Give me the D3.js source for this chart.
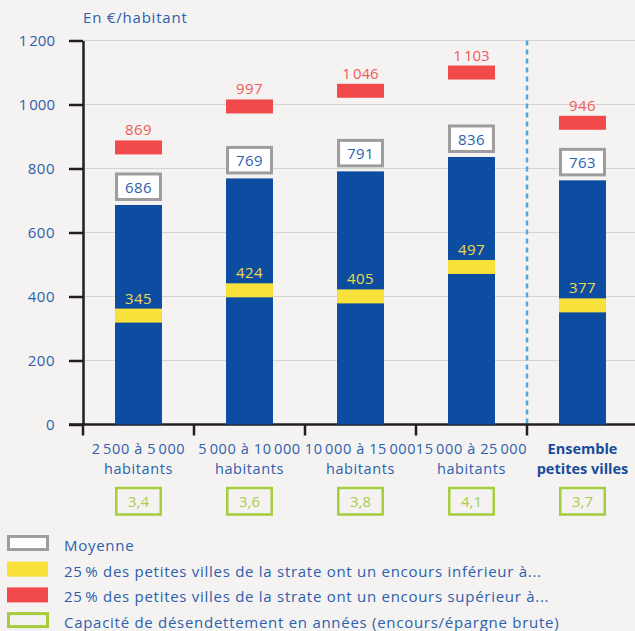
<!DOCTYPE html>
<html lang="fr">
<head>
<meta charset="utf-8">
<script src="https://cdn.jsdelivr.net/npm/d3@7"></script>
<style>
  body { margin: 0; background: #f4f3f1; }
  svg { display: block; font-family: "Open Sans", sans-serif; }
</style>
</head>
<body>
<svg id="chart"></svg>
<script>
const WIDTH = 635
const HEIGHT = 631
const PLOT = {left: 83, right: 638, top: 40.5, bottom: 424.5}

// strates de population (deux lignes par libellé)
const CATEGORIES = [
  ["2\u202f500 à 5\u202f000", "habitants"],
  ["5\u202f000 à 10\u202f000", "habitants"],
  ["10\u202f000 à 15\u202f000", "habitants"],
  ["15\u202f000 à 25\u202f000", "habitants"],
  ["Ensemble", "petites villes"],
]
const MOYENNE = [686, 769, 791, 836, 763]
const QUARTILE_BAS = [345, 424, 405, 497, 377]
const QUARTILE_HAUT = [869, 997, 1046, 1103, 946]
const CAPACITE = [3.4, 3.6, 3.8, 4.1, 3.7]
const Y_TICKS = [0, 200, 400, 600, 800, 1000, 1200]
const LEGEND_LABELS = [
  "Moyenne",
  "25\u202f% des petites villes de la strate ont un encours inférieur à...",
  "25\u202f% des petites villes de la strate ont un encours supérieur à...",
  "Capacité de désendettement en années (encours/épargne brute)",
]

const BLUE = "#0c4da2"
const TEXT_BLUE = "#2d5fae"
const YELLOW = "#f9e13b"
const RED = "#f24a4a"
const GRAY = "#9d9d9d"
const GREEN = "#a6cd3e"

const fr = d3.formatLocale({decimal: ",", thousands: "\u202f", grouping: [3], currency: ["", " €"]})
const fmtInt = fr.format(",d")
const fmtDec = fr.format(".1f")

const rows = CATEGORIES.map((c, i) => ({
  key: i,
  label: c,
  moyenne: MOYENNE[i],
  bas: QUARTILE_BAS[i],
  haut: QUARTILE_HAUT[i],
  capacite: CAPACITE[i],
}))

const svg = d3.select("#chart").attr("width", WIDTH).attr("height", HEIGHT)

const x = d3
  .scaleBand()
  .domain(rows.map((d) => d.key))
  .range([PLOT.left, PLOT.right])
  .paddingInner(0.577)
  .paddingOuter(0.2885)
const bw = x.bandwidth()
const boundary = (k) => x(k) - (x.step() - bw) / 2

const y = d3.scaleLinear().domain([0, 1200]).range([PLOT.bottom, PLOT.top])

// title
svg
  .append("text")
  .attr("x", 83)
  .attr("y", 23)
  .attr("fill", TEXT_BLUE)
  .style("font-size", "15px")
  .style("letter-spacing", "0.8px")
  .text("En €/habitant")

// gridlines
svg
  .append("g")
  .selectAll("line")
  .data(Y_TICKS.filter((d) => d > 0))
  .enter()
  .append("line")
  .attr("x1", PLOT.left)
  .attr("x2", WIDTH)
  .attr("y1", (d) => y(d))
  .attr("y2", (d) => y(d))
  .attr("stroke", "#d4d3d1")
  .attr("stroke-width", 1)

// separator before "Ensemble"
svg
  .append("line")
  .attr("x1", boundary(4))
  .attr("x2", boundary(4))
  .attr("y1", y(1200))
  .attr("y2", y(0))
  .attr("stroke", "#4eaae0")
  .attr("stroke-width", 2.5)
  .attr("stroke-dasharray", "5,4")

// y axis
const yAxis = svg
  .append("g")
  .attr("transform", `translate(${PLOT.left},0)`)
  .call(
    d3
      .axisLeft(y)
      .tickValues(Y_TICKS)
      .tickSize(14)
      .tickSizeOuter(0)
      .tickPadding(14)
      .tickFormat(fmtInt)
  )
yAxis.select(".domain").attr("stroke", "#231f20").attr("stroke-width", 2.5)
yAxis.selectAll(".tick line").attr("stroke", "#231f20").attr("stroke-width", 2.5)
yAxis
  .selectAll(".tick text")
  .attr("fill", TEXT_BLUE)
  .style("font-size", "15px")
  .style("letter-spacing", "0.5px")
  .style("font-family", "'Open Sans', sans-serif")

// x axis line + boundary ticks
svg
  .append("line")
  .attr("x1", 69)
  .attr("x2", WIDTH)
  .attr("y1", y(0))
  .attr("y2", y(0))
  .attr("stroke", "#231f20")
  .attr("stroke-width", 2.5)
svg
  .append("g")
  .selectAll("line")
  .data(rows)
  .enter()
  .append("line")
  .attr("x1", (d) => boundary(d.key))
  .attr("x2", (d) => boundary(d.key))
  .attr("y1", y(0))
  .attr("y2", y(0) + 11)
  .attr("stroke", "#231f20")
  .attr("stroke-width", 2.5)

const bars = svg.append("g").selectAll("g").data(rows).enter().append("g")

// average bar
bars
  .append("rect")
  .attr("x", (d) => x(d.key))
  .attr("y", (d) => y(d.moyenne))
  .attr("width", bw)
  .attr("height", (d) => y(0) - y(d.moyenne))
  .attr("fill", BLUE)

// lower quartile marker
bars
  .append("rect")
  .attr("x", (d) => x(d.key))
  .attr("y", (d) => y(d.bas) - 5.5)
  .attr("width", bw)
  .attr("height", 14)
  .attr("fill", YELLOW)
bars
  .append("text")
  .attr("x", (d) => x(d.key) + bw / 2)
  .attr("y", (d) => y(d.bas) - 10.5)
  .attr("text-anchor", "middle")
  .attr("fill", "#efdc48")
  .style("font-size", "15px")
  .style("letter-spacing", "0.5px")
  .text((d) => fmtInt(d.bas))

// upper quartile marker
bars
  .append("rect")
  .attr("x", (d) => x(d.key))
  .attr("y", (d) => y(d.haut) - 6)
  .attr("width", bw)
  .attr("height", 14)
  .attr("fill", RED)
bars
  .append("text")
  .attr("x", (d) => x(d.key) + bw / 2)
  .attr("y", (d) => y(d.haut) - 11)
  .attr("text-anchor", "middle")
  .attr("fill", "#f05a5a")
  .style("font-size", "15px")
  .style("letter-spacing", "0.5px")
  .text((d) => fmtInt(d.haut))

// average label box
bars
  .append("rect")
  .attr("x", (d) => x(d.key) + 1.5)
  .attr("y", (d) => y(d.moyenne) - 31)
  .attr("width", bw - 3)
  .attr("height", 25.5)
  .attr("fill", "#ffffff")
  .attr("stroke", GRAY)
  .attr("stroke-width", 3)
bars
  .append("text")
  .attr("x", (d) => x(d.key) + bw / 2)
  .attr("y", (d) => y(d.moyenne) - 12)
  .attr("text-anchor", "middle")
  .attr("fill", TEXT_BLUE)
  .style("font-size", "15px")
  .style("letter-spacing", "0.5px")
  .text((d) => fmtInt(d.moyenne))

// category labels, one text per line
const labelLines = rows.flatMap((d) => d.label.map((t, j) => ({t, j, d})))
svg
  .append("g")
  .selectAll("text")
  .data(labelLines)
  .enter()
  .append("text")
  .attr("x", (s) => x(s.d.key) + bw / 2)
  .attr("y", (s) => 453.5 + s.j * 20)
  .attr("text-anchor", "middle")
  .attr("fill", (s) => (s.d.key === 4 ? "#174c9c" : TEXT_BLUE))
  .style("font-size", "14.5px")
  .style("letter-spacing", (s) => (s.d.key === 4 ? "0px" : "0.6px"))
  .style("font-weight", (s) => (s.d.key === 4 ? 700 : 400))
  .text((s) => s.t)

// capacité de désendettement boxes
const cap = svg.append("g").selectAll("g").data(rows).enter().append("g")
cap
  .append("rect")
  .attr("x", (d) => x(d.key) + 1.25)
  .attr("y", 488)
  .attr("width", bw - 2.5)
  .attr("height", 26.5)
  .attr("fill", "none")
  .attr("stroke", GREEN)
  .attr("stroke-width", 2.5)
cap
  .append("text")
  .attr("x", (d) => x(d.key) + bw / 2)
  .attr("y", 507)
  .attr("text-anchor", "middle")
  .attr("fill", "#a9cc50")
  .style("font-size", "15px")
  .text((d) => fmtDec(d.capacite))

// legend
const legendStyles = [
  {fill: "#ffffff", stroke: GRAY},
  {fill: YELLOW, stroke: null},
  {fill: RED, stroke: null},
  {fill: "none", stroke: GREEN},
]
const legend = svg
  .append("g")
  .selectAll("g")
  .data(LEGEND_LABELS)
  .enter()
  .append("g")
  .attr("transform", (d, i) => `translate(7,${535 + i * 25.7})`)
legend
  .append("rect")
  .attr("x", (d, i) => (legendStyles[i].stroke ? 1.5 : 0))
  .attr("y", (d, i) => (legendStyles[i].stroke ? 1.5 : 1))
  .attr("width", (d, i) => (legendStyles[i].stroke ? 39 : 41))
  .attr("height", (d, i) => (legendStyles[i].stroke ? 13 : 15))
  .attr("fill", (d, i) => legendStyles[i].fill)
  .attr("stroke", (d, i) => legendStyles[i].stroke)
  .attr("stroke-width", 3)
legend
  .append("text")
  .attr("x", 57)
  .attr("y", 16)
  .attr("fill", TEXT_BLUE)
  .style("font-size", "15px")
  .style("letter-spacing", "0.72px")
  .text((d) => d)
</script>
</body>
</html>
